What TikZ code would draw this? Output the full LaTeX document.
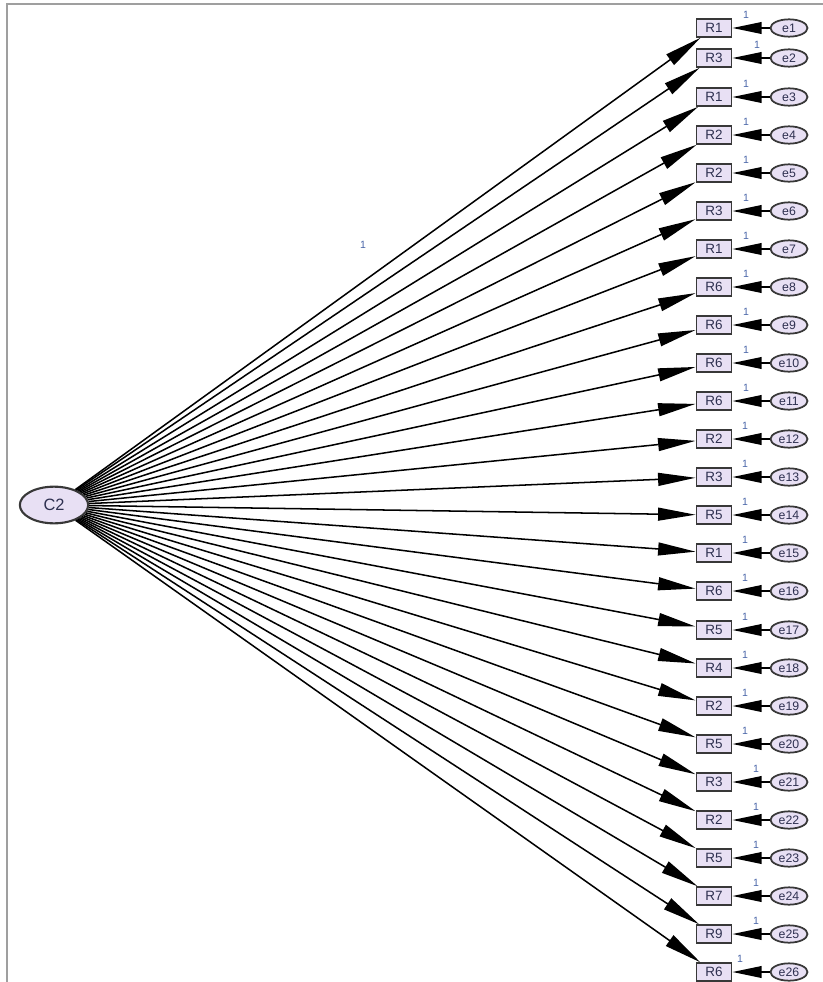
\documentclass[tikz,border=0pt]{standalone}
\usepackage{fontspec}
\setmainfont{Liberation Sans}
\usetikzlibrary{arrows.meta, shapes.geometric}

\definecolor{varfill}{HTML}{E8E0F4}
\definecolor{varline}{HTML}{383838}
\definecolor{wtcol}{HTML}{4A66A8}
\definecolor{txtcol}{HTML}{2E3050}

\begin{document}
\begin{tikzpicture}[
  x=0.03cm, y=-0.03cm,
  obsbox/.style={draw=varline, fill=varfill, line width=1.6pt, minimum width=1.05cm,
                 minimum height=0.53cm, inner sep=0pt, text=txtcol, font=\fontsize{11.5}{13}\selectfont},
  errnode/.style={ellipse, draw=varline, fill=varfill, line width=1.5pt, minimum width=1.11cm,
                  minimum height=0.52cm, inner sep=0pt, text=txtcol, font=\fontsize{10.5}{12}\selectfont},
  latnode/.style={ellipse, draw=varline, fill=varfill, line width=1.8pt, minimum width=2.05cm,
                  minimum height=1.1cm, inner sep=0pt, text=txtcol, font=\fontsize{14}{16}\selectfont},
  wlab/.style={font=\fontsize{9}{10}\selectfont, text=wtcol, inner sep=1pt},
  load/.style={black, line width=1.3pt, -{Triangle[length=32pt, width=11pt]}},
  errarr/.style={black, line width=1.3pt, -{Triangle[length=25pt, width=10pt]}},
]
  \useasboundingbox (0,0) rectangle (823,982);
  \draw[gray!75, line width=1.5pt] (7,982) -- (7,4) -- (823,4);

  \node[latnode] (c2) at (54,505) {C2};
  \node[wlab] (w0) at (363,245) {1};

  % indicators, errors and loadings
  \foreach \i/\y/\lab/\lx in {1/28/R1/746, 2/58/R3/757, 3/97/R1/746, 4/135/R2/746,
      5/173/R2/746, 6/211/R3/746, 7/249/R1/746, 8/287/R6/746, 9/325/R6/746,
      10/363/R6/746, 11/401/R6/746, 12/439/R2/745, 13/477/R3/745, 14/515/R5/745,
      15/553/R1/745, 16/591/R6/745, 17/630/R5/745, 18/668/R4/745, 19/706/R2/745,
      20/744/R5/745, 21/782/R3/756, 22/820/R2/756, 23/858/R5/756, 24/896/R7/756,
      25/934/R9/756, 26/972/R6/740} {
    \node[obsbox] (b\i) at (714,\y) {\lab};
    \node[errnode] (e\i) at (789,\y) {e\i};
    \node[wlab] (w\i) at (\lx,\y-13) {1};
    \draw[load] (c2) -- (b\i);
    \draw[errarr] (e\i) -- (b\i);
  }
\end{tikzpicture}
\end{document}
